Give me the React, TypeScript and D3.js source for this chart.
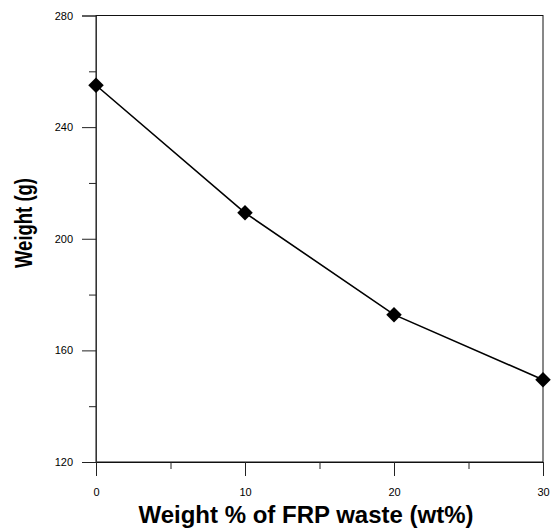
import React, { useEffect, useRef } from 'react'
import * as d3 from 'd3'

const frpContent = [0, 10, 20, 30]
const weightValues = [255, 209.3, 172.8, 149.5]
const yTicks = [120, 160, 200, 240, 280]
const yMinorTicks = [140, 180, 220, 260]
const xTicks = [0, 10, 20, 30]
const xMinorTicks = [5, 15, 25]

const App = () => {
    const chart = useRef<SVGSVGElement>(null)

    const width = 556
    const height = 532
    const margin = { top: 15.5, right: 13, bottom: 70, left: 96 }

    useEffect(() => {
        const svg = d3.select(chart.current)
        svg.selectAll('*').remove()

        const x = d3.scaleLinear()
            .domain([0, 30])
            .range([margin.left, width - margin.right])
        const y = d3.scaleLinear()
            .domain([120, 280])
            .range([height - margin.bottom, margin.top])

        const font = 'Arial, "Liberation Sans", sans-serif'

        // frame (top + right)
        svg.append('rect')
            .attr('x', x(0))
            .attr('y', y(280))
            .attr('width', x(30) - x(0))
            .attr('height', y(120) - y(280))
            .attr('fill', 'none')
            .attr('stroke', '#111')
            .attr('stroke-width', 1)

        // y axis
        const yAxis = svg.append('g')
            .attr('transform', `translate(${x(0)},0)`)
            .call(d3.axisLeft(y).tickValues(yTicks).tickSize(14).tickPadding(9).tickFormat(d3.format('d')))
        yAxis.select('.domain').attr('stroke', '#333')
        yAxis.selectAll('.tick line').attr('stroke', '#222')
        yAxis.selectAll('.tick text')
            .attr('font-family', font)
            .attr('font-size', 11)
            .attr('fill', '#000')
        svg.append('g')
            .attr('transform', `translate(${x(0)},0)`)
            .call(d3.axisLeft(y).tickValues(yMinorTicks).tickSize(7).tickFormat(() => ''))
            .call(g => g.select('.domain').remove())
            .selectAll('.tick line').attr('stroke', '#222')

        // x axis
        const xAxis = svg.append('g')
            .attr('transform', `translate(0,${y(120)})`)
            .call(d3.axisBottom(x).tickValues(xTicks).tickSize(14).tickPadding(12).tickFormat(d3.format('d')))
        xAxis.select('.domain').attr('stroke', '#111')
        xAxis.selectAll('.tick line').attr('stroke', '#222')
        xAxis.selectAll('.tick text')
            .attr('font-family', font)
            .attr('font-size', 11)
            .attr('fill', '#000')
        svg.append('g')
            .attr('transform', `translate(0,${y(120)})`)
            .call(d3.axisBottom(x).tickValues(xMinorTicks).tickSize(7).tickFormat(() => ''))
            .call(g => g.select('.domain').remove())
            .selectAll('.tick line').attr('stroke', '#222')

        const pts = frpContent.map((d, i) => ({ x: d, y: weightValues[i] }))

        // line
        svg.append('path')
            .datum(pts)
            .attr('fill', 'none')
            .attr('stroke', '#000')
            .attr('stroke-width', 1.6)
            .attr('d', d3.line<{ x: number, y: number }>().x(d => x(d.x)).y(d => y(d.y)))

        // diamond markers
        svg.append('g')
            .selectAll('path')
            .data(pts)
            .join('path')
            .attr('d', d3.symbol().type(d3.symbolSquare).size(120))
            .attr('transform', d => `translate(${x(d.x)},${y(d.y)}) rotate(45)`)
            .attr('fill', '#000')

        // axis titles
        svg.append('text')
            .text('Weight % of FRP waste (wt%)')
            .attr('x', 306)
            .attr('y', 523)
            .attr('text-anchor', 'middle')
            .attr('font-family', font)
            .attr('font-weight', 'bold')
            .attr('font-size', 24)
            .attr('fill', '#000')

        svg.append('text')
            .text('Weight (g)')
            .attr('transform', `translate(32,223) rotate(-90)`)
            .attr('text-anchor', 'middle')
            .attr('font-family', font)
            .attr('font-weight', 'bold')
            .attr('font-size', 24)
            .attr('textLength', 90)
            .attr('lengthAdjust', 'spacingAndGlyphs')
            .attr('fill', '#000')
    })

    return (
        <svg ref={chart} width={width} height={height}
            style={{ position: 'absolute', left: 0, top: 0, background: '#fff' }}></svg>
    )
}
export default App
